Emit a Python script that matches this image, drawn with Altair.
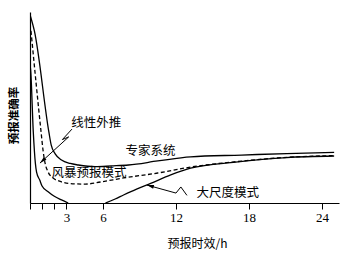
import altair as alt
import pandas as pd

# ---- data (hours, accuracy in arbitrary 0-100 units) ----
exp_h = [0, 0.36, 1.55, 1.74, 2.07, 2.59, 3.31, 3.97, 5.35, 6.69, 8.10, 10.5, 13.2, 17.4, 21.1, 25.0]
exp_v = [98.6, 90.1, 37.2, 30.4, 25.7, 22.5, 20.7, 19.9, 19.0, 19.4, 19.9, 22.0, 24.2, 25.1, 25.9, 26.5]

storm_h = [0.08, 0.91, 1.07, 1.24, 1.49, 1.90, 2.48, 3.31, 4.55, 5.79, 7.69, 10.5, 13.2, 16.9, 21.1, 25.0]
storm_v = [90.1, 37.2, 27.7, 20.9, 16.2, 13.1, 11.3, 10.2, 9.9, 11.0, 13.1, 15.7, 18.8, 21.6, 23.9, 24.8]

lin_h = [0, 0.05, 0.27, 0.44, 0.54, 0.80, 0.99, 1.49, 2.0, 2.59, 3.14]
lin_v = [72.3, 69.8, 37.2, 20.9, 16.2, 12.0, 8.9, 5.9, 3.5, 1.6, 0]

large_h = [6.2, 7.0, 7.69, 8.76, 9.92, 11.57, 13.2, 16.9, 21.1, 25.0]
large_v = [0, 2.1, 4.2, 7.3, 10.3, 14.7, 18.2, 21.4, 23.8, 24.6]

label_text = ["线性外推", "专家系统", "风暴预报模式", "大尺度模式"]
label_h = [5.45, 9.9, 4.85, 16.25]
label_v = [41.9, 27.0, 15.7, 5.2]

arrow1_h = [3.45, 2.66, 3.18, 0.82]
arrow1_v = [38.7, 33.2, 34.6, 20.9]
arrow2_h = [9.61, 12.0, 12.4, 12.9]
arrow2_v = [9.4, 5.2, 8.4, 4.0]

tick_values = [0, 1, 2, 3, 6, 12, 18, 24]

X_DOMAIN = [0, 25.4]
Y_DOMAIN = [0, 100]

xs = alt.Scale(domain=X_DOMAIN, nice=False, zero=False)
ys = alt.Scale(domain=Y_DOMAIN, nice=False)

FONT_CJK = "Noto Sans CJK SC"
HEAD = "M0,0 L0.5,1.8 L-0.5,1.8 Z"


def curve(h, v, dash=None):
    df = pd.DataFrame({"h": h, "v": v})
    kw = dict(color="black", strokeWidth=1.3, interpolate="monotone", clip=True)
    if dash:
        kw["strokeDash"] = dash
    return alt.Chart(df).mark_line(**kw).encode(
        x=alt.X("h:Q", scale=xs,
                axis=alt.Axis(values=tick_values, title="预报时效/h",
                              labelExpr="datum.value >= 3 ? datum.label : ''")),
        y=alt.Y("v:Q", scale=ys, axis=alt.Axis(title="预报准确率")),
    )


def arrow(h, v, angle, head_index):
    df = pd.DataFrame({"h": h, "v": v, "i": list(range(len(h)))})
    line = alt.Chart(df).mark_line(color="black", strokeWidth=1.0).encode(
        x=alt.X("h:Q", scale=xs), y=alt.Y("v:Q", scale=ys), order="i:Q")
    head = alt.Chart(df.iloc[[head_index]]).mark_point(
        shape=HEAD, filled=True, color="black",
        size=60, angle=angle, opacity=1).encode(
        x=alt.X("h:Q", scale=xs), y=alt.Y("v:Q", scale=ys))
    return line, head


labels_df = pd.DataFrame({"t": label_text, "h": label_h, "v": label_v})
labels = alt.Chart(labels_df).mark_text(
    font=FONT_CJK, fontSize=12.5, color="black", align="center", baseline="middle").encode(
    x=alt.X("h:Q", scale=xs), y=alt.Y("v:Q", scale=ys), text="t:N")

a1_line, a1_head = arrow(arrow1_h, arrow1_v, 228, -1)
a2_line, a2_head = arrow(arrow2_h, arrow2_v, 285, 0)

chart = alt.layer(
    curve(exp_h, exp_v),
    curve(lin_h, lin_v),
    curve(large_h, large_v),
    curve(storm_h, storm_v, dash=[4, 2.5]),
    a1_line, a1_head, a2_line, a2_head,
    labels,
).properties(
    width=309, height=191,
    autosize=alt.AutoSizeParams(type="none"),
    padding={"left": 30, "top": 12, "right": 12, "bottom": 60},
    background="white",
).configure_view(stroke=None).configure_axisX(
    grid=False, domainColor="black", domainWidth=1.2, tickColor="black", tickWidth=1,
    tickSize=6, labelFont="Liberation Serif", labelFontSize=13, labelColor="black",
    labelPadding=2, labelFlush=False, titleFont=FONT_CJK, titleFontSize=12,
    titleFontWeight="normal", titleColor="black", titleX=167, titleY=40,
    titleBaseline="middle", titleAlign="center",
).configure_axisY(
    grid=False, domainColor="black", domainWidth=1.2, ticks=False, labels=False,
    titleFont=FONT_CJK, titleFontSize=11.5, titleFontWeight="bold", titleColor="black",
    titleX=-16, titleY=103, titleAngle=270, titleBaseline="middle", titleAlign="center",
)

chart.save("out.html", embed_options={"renderer": "svg", "actions": False})
